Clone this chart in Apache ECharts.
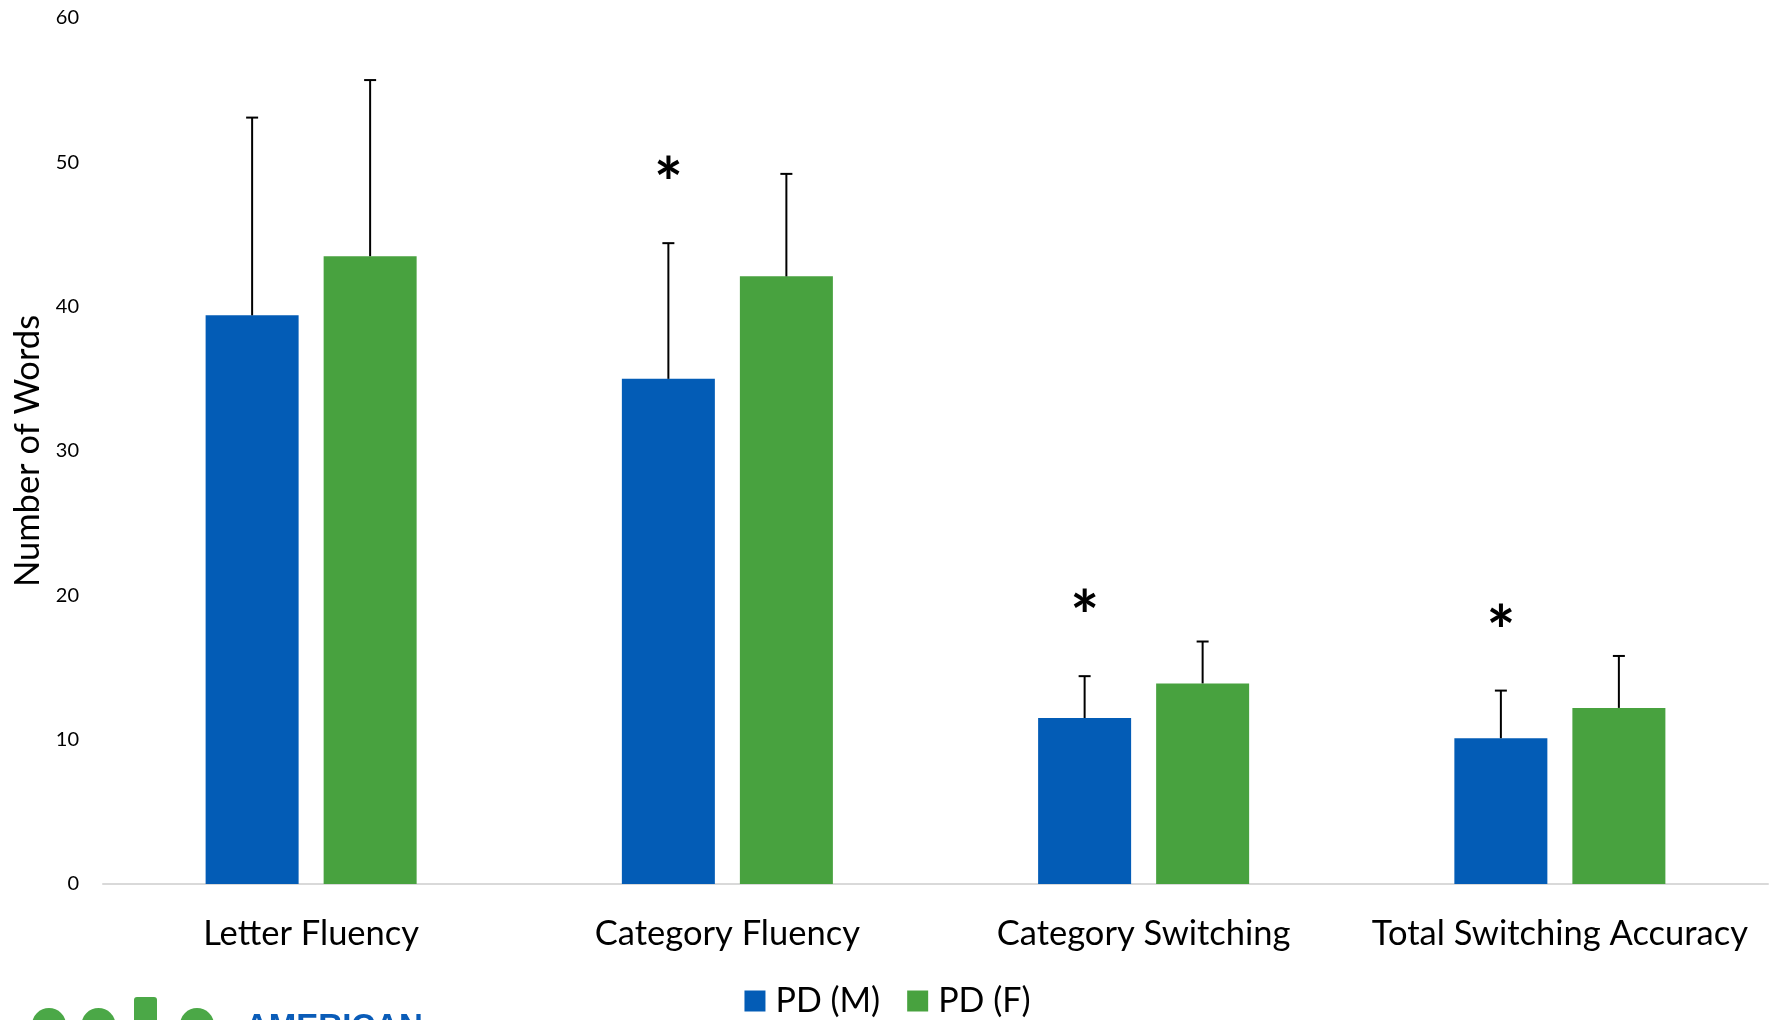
<!DOCTYPE html>
<html>
<head>
<meta charset="utf-8">
<title>Verbal fluency by sex in PD</title>
<script src="https://cdn.jsdelivr.net/npm/echarts@6/dist/echarts.min.js"></script>
<style>
  html, body { margin: 0; padding: 0; background: #ffffff; }
  #chart { width: 1775px; height: 1020px; }
</style>
</head>
<body>
<div id="chart"></div>
<script>
// Verbal fluency tasks
const categories = ['Letter Fluency', 'Category Fluency', 'Category Switching', 'Total Switching Accuracy'];

// Mean number of words per group
const pdMale = [39.4, 35.0, 11.5, 10.1];
const pdFemale = [43.5, 42.1, 13.9, 12.2];

// Standard deviations (upper error bars)
const pdMaleSD = [13.7, 9.4, 2.9, 3.3];
const pdFemaleSD = [12.2, 7.1, 2.9, 3.6];

// Tasks with a significant sex difference (marked with *)
const significant = [false, true, true, true];

// Y axis range
const yMin = 0;
const yMax = 60;
const yStep = 10;

const BLUE = '#035CB6';
const GREEN = '#48A23F';
const FONT = 'Lato, "Open Sans", sans-serif';

const BAR_WIDTH = 93;
const BAR_GAP_PX = 25;
const BAR_OFFSET = (BAR_WIDTH + BAR_GAP_PX) / 2;

function errorBarRenderer(side) {
  return function (params, api) {
    const idx = api.value(0);
    const base = api.coord([idx, api.value(1)]);
    const top = api.coord([idx, api.value(2)]);
    const x = base[0] + side * BAR_OFFSET;
    const cap = 6;
    const style = { stroke: '#000', lineWidth: 2 };
    return {
      type: 'group',
      children: [
        { type: 'line', shape: { x1: x, y1: base[1], x2: x, y2: top[1] }, style: style },
        { type: 'line', shape: { x1: x - cap, y1: top[1], x2: x + cap, y2: top[1] }, style: style }
      ]
    };
  };
}

const maleErr = categories.map((c, i) => [i, pdMale[i], pdMale[i] + pdMaleSD[i]]);
const femaleErr = categories.map((c, i) => [i, pdFemale[i], pdFemale[i] + pdFemaleSD[i]]);
const starData = categories
  .map((c, i) => [i, pdMale[i] + pdMaleSD[i]])
  .filter((d, i) => significant[i]);

const chart = echarts.init(document.getElementById('chart'), null, { renderer: 'canvas' });

chart.setOption({
  animation: false,
  backgroundColor: '#ffffff',
  textStyle: { fontFamily: FONT },
  grid: { left: 103, right: 7, top: 18, bottom: 136, containLabel: false },
  legend: {
    data: ['PD (M)', 'PD (F)'],
    left: 'center',
    top: 984,
    padding: 0,
    itemWidth: 21,
    itemHeight: 21,
    itemGap: 27,
    icon: 'rect',
    textStyle: { fontSize: 34, color: '#000', fontFamily: FONT, padding: [0, 0, 0, 5] }
  },
  xAxis: {
    type: 'category',
    data: categories,
    axisLine: { lineStyle: { color: '#D9D9D9', width: 2 } },
    axisTick: { show: false },
    axisLabel: { fontSize: 34.5, color: '#000', margin: 32, fontFamily: FONT, interval: 0 }
  },
  yAxis: {
    type: 'value',
    min: yMin,
    max: yMax,
    interval: yStep,
    name: 'Number of Words',
    nameLocation: 'middle',
    nameGap: 58,
    nameRotate: 90,
    nameTextStyle: { fontSize: 34.5, color: '#000', fontFamily: FONT },
    axisLine: { show: false },
    axisTick: { show: false },
    splitLine: { show: false },
    axisLabel: { fontSize: 20, color: '#000', margin: 24, fontFamily: FONT }
  },
  series: [
    {
      name: 'PD (M)',
      type: 'bar',
      data: pdMale,
      barWidth: BAR_WIDTH,
      barGap: (BAR_GAP_PX / BAR_WIDTH * 100).toFixed(1) + '%',
      itemStyle: { color: BLUE }
    },
    {
      name: 'PD (F)',
      type: 'bar',
      data: pdFemale,
      barWidth: BAR_WIDTH,
      itemStyle: { color: GREEN }
    },
    {
      type: 'custom',
      data: maleErr,
      renderItem: errorBarRenderer(-1),
      z: 5,
      silent: true
    },
    {
      type: 'custom',
      data: femaleErr,
      renderItem: errorBarRenderer(1),
      z: 5,
      silent: true
    },
    {
      type: 'custom',
      data: starData,
      z: 6,
      silent: true,
      renderItem: function (params, api) {
        const p = api.coord([api.value(0), api.value(1)]);
        return {
          type: 'text',
          style: {
            x: p[0] - BAR_OFFSET,
            y: p[1] - 57,
            text: '*',
            fontSize: 68,
            fontWeight: 'bold',
            fontFamily: 'Lato, sans-serif',
            fill: '#000',
            align: 'center',
            verticalAlign: 'middle'
          }
        };
      }
    }
  ],
  graphic: [
    // Society logo, cut off at the bottom edge
    { type: 'circle', silent: true, shape: { cx: 49, cy: 1025, r: 17 }, style: { fill: '#4BA847' } },
    { type: 'circle', silent: true, shape: { cx: 98.5, cy: 1025, r: 17 }, style: { fill: '#4BA847' } },
    { type: 'rect', silent: true, shape: { x: 134, y: 997, width: 23, height: 30, r: [3, 3, 0, 0] }, style: { fill: '#4BA847' } },
    { type: 'circle', silent: true, shape: { cx: 197, cy: 1025, r: 17 }, style: { fill: '#4BA847' } },
    {
      type: 'text',
      silent: true,
      style: {
        x: 245,
        y: 1011,
        text: 'AMERICAN',
        fontSize: 33,
        fontWeight: 'bold',
        fontFamily: '"Liberation Sans", Arial, sans-serif',
        fill: '#0A5CB8',
        verticalAlign: 'top'
      }
    }
  ]
});
</script>
</body>
</html>
